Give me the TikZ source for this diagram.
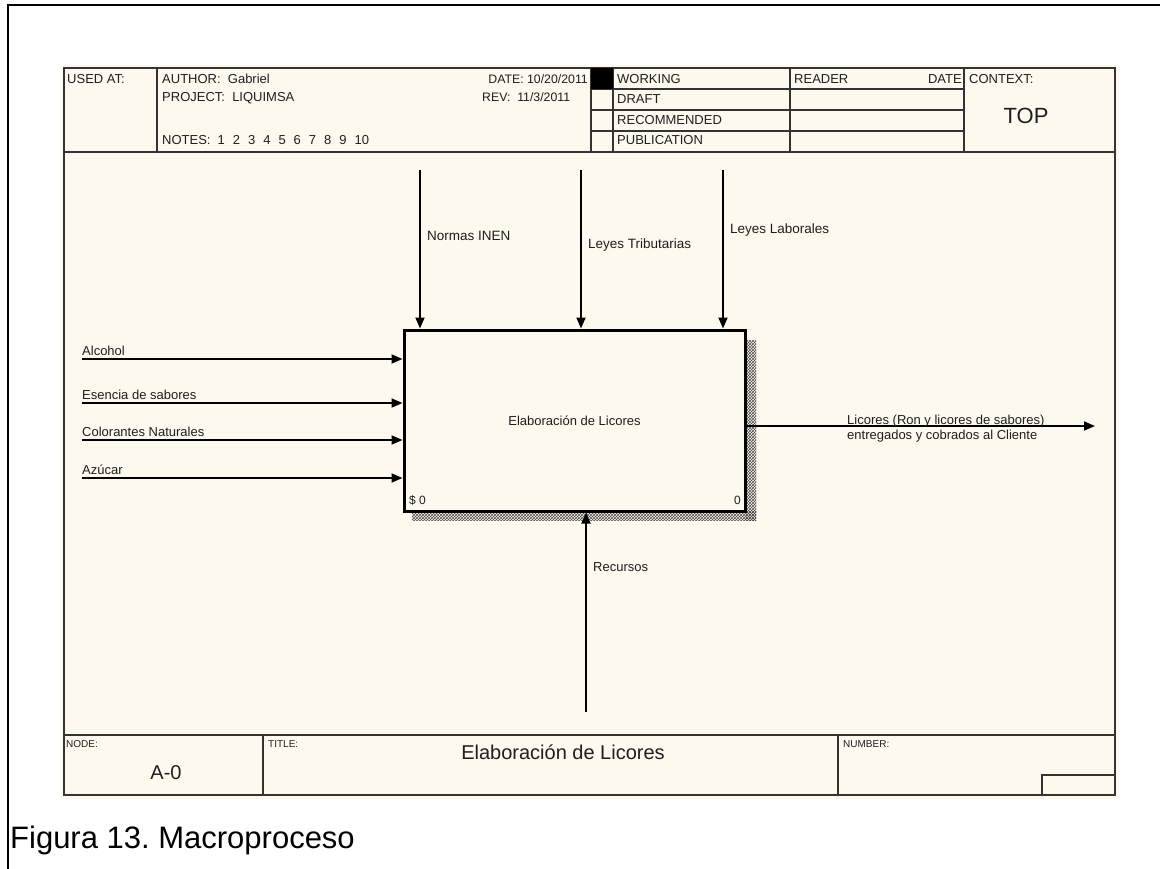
\documentclass[tikz,border=0pt]{standalone}
\usepackage{fontspec}
\setmainfont{Liberation Sans}
\usetikzlibrary{arrows.meta,patterns}
\definecolor{cream}{HTML}{FEF9EE}
\definecolor{ink}{HTML}{1E1E1E}
\definecolor{rulec}{HTML}{333333}
\frenchspacing
\begin{document}
\begin{tikzpicture}[x=1pt,y=-1pt,
  lbl/.style={font=\fontsize{13}{15}\selectfont, text=ink, inner sep=0pt, anchor=base west},
  smalllbl/.style={font=\fontsize{10}{12}\selectfont, text=ink, inner sep=0pt, anchor=base west},
  arr/.style={draw=black, line width=1.8pt, -{Triangle[length=11pt,width=9pt]}},
  gridline/.style={draw=rulec, line width=1.6pt},
  shade/.style={pattern=crosshatch, pattern color=black!70}]
\useasboundingbox (0,0) rectangle (1160,869);
\fill[white] (0,0) rectangle (1160,869);
% outer frame
\draw[line width=2.5pt, line cap=rect] (8,869) -- (8,5) -- (1160,5);
% form
\fill[cream] (61,65) rectangle (1119,799);
\draw[gridline] (64,68) rectangle (1115,795);
% header
\draw[gridline] (64,152) -- (1115,152);
\draw[gridline] (157,68) -- (157,152);
\draw[gridline] (591,68) -- (591,152);
\draw[gridline] (613,68) -- (613,152);
\draw[gridline] (790,68) -- (790,152);
\draw[gridline] (964,68) -- (964,152);
\draw[gridline] (591,89) -- (964,89);
\draw[gridline] (591,110) -- (964,110);
\draw[gridline] (591,131) -- (964,131);
\fill[black] (591,68) rectangle (613,89);
% footer
\draw[gridline] (64,735) -- (1115,735);
\draw[gridline] (263,735) -- (263,795);
\draw[gridline] (838,735) -- (838,795);
\draw[gridline] (1042,795) -- (1042,775) -- (1115,775);
% header texts
\node[lbl] (usedat) at (67,84) {USED AT:};
\node[lbl] (author) at (162,84) {AUTHOR:\ \ Gabriel};
\node[lbl] (project) at (162,102) {PROJECT:\ \ LIQUIMSA};
\node[lbl] (notes) at (162,145) {NOTES:\hspace{7pt}1\hspace{8pt}2\hspace{8pt}3\hspace{8pt}4\hspace{8pt}5\hspace{8pt}6\hspace{8pt}7\hspace{8pt}8\hspace{8pt}9\hspace{8pt}10};
\node[lbl, anchor=base east, font=\fontsize{12.3}{14}\selectfont] (date) at (588,84) {DATE: 10/20/2011};
\node[lbl, font=\fontsize{12.3}{14}\selectfont] (rev) at (482,102) {REV:\ \ 11/3/2011};
\node[lbl] (working) at (617,84) {WORKING};
\node[lbl] (draft) at (617,104) {DRAFT};
\node[lbl] (recommended) at (617,125) {RECOMMENDED};
\node[lbl] (publication) at (617,145) {PUBLICATION};
\node[lbl] (reader) at (794,84) {READER};
\node[lbl, anchor=base east] (rdate) at (962,84) {DATE};
\node[lbl] (context) at (969,84) {CONTEXT:};
\node[font=\fontsize{22}{24}\selectfont, text=ink, inner sep=0pt] (top) at (1026,116) {TOP};
% shadow and main box
\fill[shade] (745,340) rectangle (756,520);
\fill[shade] (412,511) rectangle (756,520);
\node[draw=black, line width=3pt, fill=cream, minimum width=341pt, minimum height=181pt,
  inner sep=0pt, font=\fontsize{13}{15}\selectfont, text=ink] (box) at (574.5,420.5) {Elaboración de Licores};
\node[smalllbl, font=\fontsize{12}{13}\selectfont] (bl) at (409,504) {\$ 0};
\node[smalllbl, font=\fontsize{12}{13}\selectfont, anchor=base east] (br) at (741,504) {0};
% controls
\coordinate (c1) at (420,170);
\coordinate (c2) at (581,170);
\coordinate (c3) at (723,170);
\draw[arr] (c1) -- (c1 |- box.north);
\draw[arr] (c2) -- (c2 |- box.north);
\draw[arr] (c3) -- (c3 |- box.north);
\node[lbl, font=\fontsize{13.5}{15}\selectfont] (l1) at (427,241) {Normas INEN};
\node[lbl, font=\fontsize{13.5}{15}\selectfont] (l2) at (588,249) {Leyes Tributarias};
\node[lbl, font=\fontsize{13.5}{15}\selectfont] (l3) at (730,234) {Leyes Laborales};
% inputs
\coordinate (i1) at (82,359);
\coordinate (i2) at (82,403);
\coordinate (i3) at (82,440);
\coordinate (i4) at (82,478);
\draw[arr] (i1) -- (i1 -| box.west);
\draw[arr] (i2) -- (i2 -| box.west);
\draw[arr] (i3) -- (i3 -| box.west);
\draw[arr] (i4) -- (i4 -| box.west);
\node[lbl] (t1) at (82,355) {Alcohol};
\node[lbl] (t2) at (82,399) {Esencia de sabores};
\node[lbl] (t3) at (82,436) {Colorantes Naturales};
\node[lbl] (t4) at (82,474) {Azúcar};
% output
\coordinate (o1) at (1095,426);
\draw[arr] (box.east |- o1) -- (o1);
\node[lbl, align=left, anchor=north west] (out) at (847,415) {Licores (Ron y licores de sabores)\\entregados y cobrados al Cliente};
% mechanism
\coordinate (m1) at (586,712);
\draw[arr] (m1) -- (m1 |- box.south);
\node[lbl] (rec) at (593,571) {Recursos};
% footer texts
\node[smalllbl] (nodel) at (66,747) {NODE:};
\node[smalllbl] (titlel) at (268,747) {TITLE:};
\node[smalllbl] (numberl) at (843,747) {NUMBER:};
\node[font=\fontsize{20}{22}\selectfont, text=ink, inner sep=0pt] (a0) at (166,773) {A-0};
\node[font=\fontsize{20}{22}\selectfont, text=ink, inner sep=0pt] (title) at (563,752) {Elaboración de Licores};
% caption
\node[font=\fontsize{31}{33}\selectfont, text=black, inner sep=0pt, anchor=base west] (cap) at (10,848) {Figura 13. Macroproceso};
\end{tikzpicture}
\end{document}
